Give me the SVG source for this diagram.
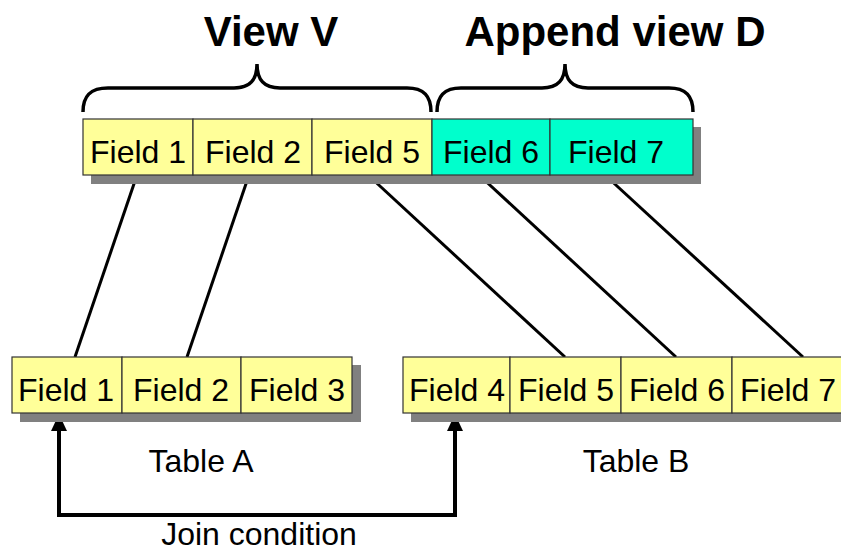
<svg xmlns="http://www.w3.org/2000/svg" width="841" height="552" viewBox="0 0 841 552">
<style>
.shadow{fill:#808080}
.y{fill:#FFFF99;stroke:#333;stroke-width:1.2}
.c{fill:#00FFCC;stroke:#333;stroke-width:1.2}
.t{font-family:"Liberation Sans",Arial,sans-serif;font-size:32px;fill:#000;text-anchor:middle}
.h{font-family:"Liberation Sans",Arial,sans-serif;font-size:42px;font-weight:bold;fill:#000;text-anchor:middle}
.ln{stroke:#000;stroke-width:3;fill:none}
.br{stroke:#000;stroke-width:3.5;fill:none}
.ar{stroke:#000;stroke-width:4;fill:none}
</style>
<rect width="841" height="552" fill="#fff"/>
<g id="titles">
<text class="h" x="271" y="46">View V</text>
<text class="h" x="615" y="46">Append view D</text>
<path class="br" d="M83,112 C83,96 90,88 108,88 L234,88 C250,88 257,80 257,64 C257,80 264,88 280,88 L407,88 C424,88 431,96 431,112"/>
<path class="br" d="M437,112 C437,96 444,88 461,88 L542,88 C558,88 565,80 565,64 C565,80 572,88 588,88 L669,88 C686,88 693,96 693,112"/>
</g>
<g id="connectors">
<line class="ln" x1="137" y1="175" x2="75" y2="357"/>
<line class="ln" x1="249" y1="175" x2="187" y2="357"/>
<line class="ln" x1="368" y1="175" x2="565" y2="357"/>
<line class="ln" x1="479" y1="175" x2="676" y2="357"/>
<line class="ln" x1="605" y1="175" x2="803" y2="357"/>
<path class="ar" d="M59,430 L59,515 L455,515 L455,430"/>
<polygon points="59,414 51,431 67,431" fill="#000"/>
<polygon points="455,414 447,431 463,431" fill="#000"/>
</g>
<g id="view">
<rect class="shadow" x="91" y="127" width="610" height="57"/>
<rect class="y" x="83" y="119" width="110" height="56"/>
<rect class="y" x="193" y="119" width="119" height="56"/>
<rect class="y" x="312" y="119" width="120" height="56"/>
<rect class="c" x="432" y="119" width="118" height="56"/>
<rect class="c" x="550" y="119" width="143" height="56"/>
<text class="t" x="138" y="163">Field 1</text>
<text class="t" x="253" y="163">Field 2</text>
<text class="t" x="372" y="163">Field 5</text>
<text class="t" x="491" y="163">Field 6</text>
<text class="t" x="616" y="163">Field 7</text>
</g>
<g id="tableA">
<rect class="shadow" x="20" y="365" width="341" height="57"/>
<rect class="y" x="12" y="357" width="110" height="56"/>
<rect class="y" x="122" y="357" width="119" height="56"/>
<rect class="y" x="241" y="357" width="111" height="56"/>
<text class="t" x="66" y="401">Field 1</text>
<text class="t" x="181" y="401">Field 2</text>
<text class="t" x="297" y="401">Field 3</text>
<text class="t" x="201" y="472">Table A</text>
</g>
<g id="tableB">
<rect class="shadow" x="411" y="365" width="440" height="57"/>
<rect class="y" x="403" y="357" width="107" height="56"/>
<rect class="y" x="510" y="357" width="111" height="56"/>
<rect class="y" x="621" y="357" width="111" height="56"/>
<rect class="y" x="732" y="357" width="112" height="56"/>
<text class="t" x="457" y="401">Field 4</text>
<text class="t" x="566" y="401">Field 5</text>
<text class="t" x="677" y="401">Field 6</text>
<text class="t" x="788" y="401">Field 7</text>
<text class="t" x="636" y="472">Table B</text>
</g>
<g id="join">
<text class="t" x="259" y="545">Join condition</text>
</g>
</svg>
